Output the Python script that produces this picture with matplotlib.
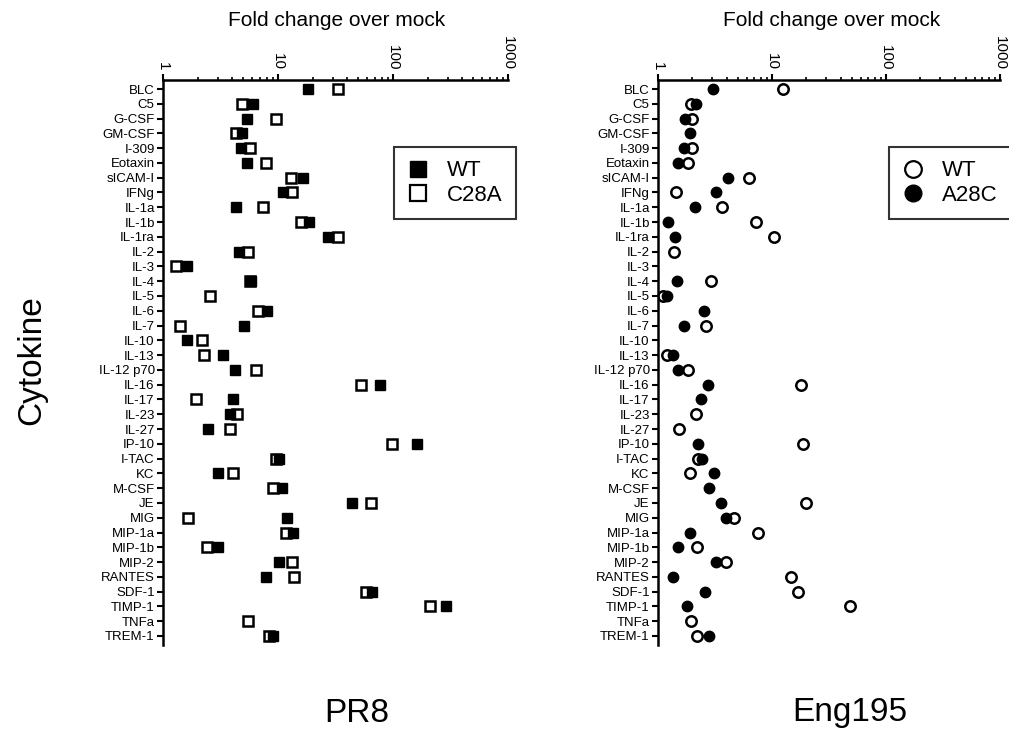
import numpy as np
import matplotlib
matplotlib.use("Agg")
import matplotlib.pyplot as plt
from matplotlib.ticker import LogLocator, FixedLocator, NullFormatter
from matplotlib.lines import Line2D

plt.rcParams['font.family'] = ['Liberation Sans', 'DejaVu Sans']

nan = np.nan
cytokines = ["BLC", "C5", "G-CSF", "GM-CSF", "I-309", "Eotaxin", "sICAM-I", "IFNg",
             "IL-1a", "IL-1b", "IL-1ra", "IL-2", "IL-3", "IL-4", "IL-5", "IL-6", "IL-7",
             "IL-10", "IL-13", "IL-12 p70", "IL-16", "IL-17", "IL-23", "IL-27", "IP-10",
             "I-TAC", "KC", "M-CSF", "JE", "MIG", "MIP-1a", "MIP-1b", "MIP-2", "RANTES",
             "SDF-1", "TIMP-1", "TNFa", "TREM-1"]

pr8_wt = [18.4, 6.1, 5.4, 4.9, 4.8, 5.4, 16.6, 11.0, 4.3, 18.6, 27, 4.6, 1.63, 5.8, nan,
          8.1, 5.1, 1.63, 3.35, 4.25, 77, 4.04, 3.83, 2.48, 162, 10.3, 3.03, 10.8, 44,
          11.9, 13.6, 3.03, 10.2, 7.9, 66, 289, nan, 9.1]
pr8_c28a = [33.5, 4.9, 9.7, 4.3, 5.7, 7.9, 12.9, 13.2, 7.4, 15.7, 33, 5.5, 1.31, 5.7, 2.56,
            6.7, 1.41, 2.2, 2.27, 6.4, 52.7, 1.92, 4.37, 3.83, 98, 9.6, 4.1, 9.1, 64,
            1.66, 11.7, 2.4, 13.2, 13.9, 58, 210, 5.5, 8.4]

eng_wt = [12.6, 1.95, 2.0, nan, 2.0, 1.84, 6.3, 1.45, 3.65, 7.3, 10.4, 1.38, nan, 2.94, 1.11,
          nan, 2.64, nan, 1.21, 1.84, 17.9, nan, 2.16, 1.54, 18.8, 2.25, 1.90, nan, 19.7,
          4.6, 7.5, 2.21, 3.98, 14.7, 16.8, 48.2, 1.95, 2.21]
eng_a28c = [3.02, 2.16, 1.72, 1.89, 1.69, 1.5, 4.08, 3.23, 2.13, 1.22, 1.41, nan, nan, 1.48,
            1.21, 2.52, 1.69, nan, 1.35, 1.5, 2.72, 2.39, nan, nan, 2.24, 2.41, 3.1, 2.81,
            3.6, 3.98, 1.90, 1.5, 3.23, 1.35, 2.57, 1.8, nan, 2.79]

xticks = [1, 10, 100, 1000]
xtick_labels = ["1", "10", "100", "1000"]

fig = plt.figure(figsize=(10.09, 7.34), dpi=100)
W, H = 1009, 734

def make_ax(x0, x1):
    ax = fig.add_axes([x0 / W, 1 - 645 / H, (x1 - x0) / W, (645 - 80) / H])
    ax.set_xscale('log')
    ax.set_xlim(1, 1000)
    ax.set_ylim(len(cytokines) - 1 + 0.61, -0.61)
    ax.xaxis.tick_top()
    ax.xaxis.set_major_locator(FixedLocator(xticks))
    ax.set_xticklabels(xtick_labels, rotation=-90, fontsize=11)
    ax.xaxis.set_minor_locator(LogLocator(base=10, subs=np.arange(2, 10)))
    ax.xaxis.set_minor_formatter(NullFormatter())
    ax.tick_params(axis='x', which='major', direction='out', length=4, width=1.5, pad=3)
    ax.tick_params(axis='x', which='minor', direction='out', length=2.5, width=1.2)
    ax.set_yticks(range(len(cytokines)))
    ax.set_yticklabels(cytokines, fontsize=9.5)
    ax.tick_params(axis='y', direction='out', length=4, width=1.5, pad=2)
    for s in ['right', 'bottom']:
        ax.spines[s].set_visible(False)
    for s in ['top', 'left']:
        ax.spines[s].set_linewidth(1.8)
    ax.patch.set_visible(False)
    return ax

y = np.arange(len(cytokines))

ax1 = make_ax(163, 508)
ax1.plot(pr8_c28a, y, ls='none', marker='s', ms=7, mfc='white', mec='black', mew=1.8)
ax1.plot(pr8_wt, y, ls='none', marker='s', ms=7, mfc='black', mec='black', mew=1.0)

ax2 = make_ax(658, 1000)
ax2.plot(eng_wt, y, ls='none', marker='o', ms=7.5, mfc='white', mec='black', mew=1.8)
ax2.plot(eng_a28c, y, ls='none', marker='o', ms=7.5, mfc='black', mec='black', mew=1.0)

# legends
h1 = [Line2D([], [], ls='none', marker='s', ms=12, mfc='black', mec='black', mew=1.0),
      Line2D([], [], ls='none', marker='s', ms=12, mfc='white', mec='black', mew=1.6)]
leg1 = fig.legend(h1, ["WT", "C28A"], loc='upper left', bbox_to_anchor=(394 / W, 1 - 147 / H),
                  fontsize=16, frameon=True, fancybox=False, edgecolor='black',
                  handlelength=1.0, handletextpad=0.8, labelspacing=0.15,
                  borderpad=0.6, borderaxespad=0)
leg1.get_frame().set_linewidth(1.5)
h2 = [Line2D([], [], ls='none', marker='o', ms=12, mfc='white', mec='black', mew=1.6),
      Line2D([], [], ls='none', marker='o', ms=12, mfc='black', mec='black', mew=1.0)]
leg2 = fig.legend(h2, ["WT", "A28C"], loc='upper left', bbox_to_anchor=(889 / W, 1 - 147 / H),
                  fontsize=16, frameon=True, fancybox=False, edgecolor='black',
                  handlelength=1.0, handletextpad=0.8, labelspacing=0.15,
                  borderpad=0.6, borderaxespad=0)
leg2.get_frame().set_linewidth(1.5)

fig.text(337 / W, 1 - 20 / H, "Fold change over mock", ha='center', va='center', fontsize=15)
fig.text(832 / W, 1 - 20 / H, "Fold change over mock", ha='center', va='center', fontsize=15)
fig.text(32 / W, 1 - 360 / H, "Cytokine", ha='center', va='center', rotation=90, fontsize=24)
fig.text(357 / W, 1 - 713 / H, "PR8", ha='center', va='center', fontsize=24)
fig.text(850 / W, 1 - 713 / H, "Eng195", ha='center', va='center', fontsize=24)

fig.savefig("out.png", dpi=100)
